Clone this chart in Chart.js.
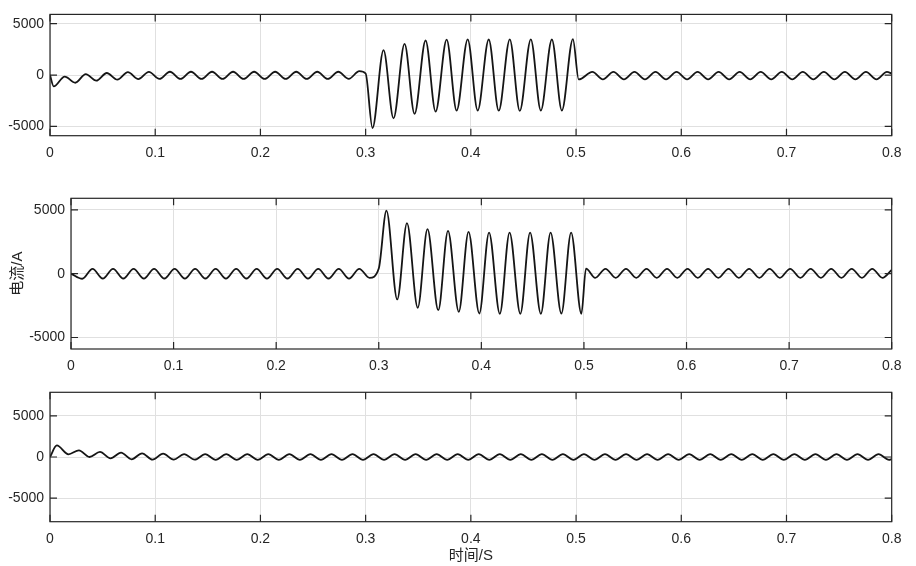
<!DOCTYPE html>
<html>
<head>
<meta charset="utf-8">
<script src="https://cdn.jsdelivr.net/npm/chart.js@4.4.1/dist/chart.umd.min.js"></script>
<style>
  body { margin: 0; background: #fff; width: 916px; height: 566px; overflow: hidden; position: relative; }
  canvas { position: absolute; left: 0; }
</style>
</head>
<body>
<canvas id="phaseA" width="916" height="170" style="top:0px"></canvas>
<canvas id="phaseB" width="916" height="205" style="top:170px"></canvas>
<canvas id="phaseC" width="916" height="191" style="top:375px"></canvas>
<script>
// tick labels
const xTickValues = [0, 0.1, 0.2, 0.3, 0.4, 0.5, 0.6, 0.7, 0.8];
const yTickValues = [-5000, 0, 5000];

// A相电流 (峰/谷读数)
const phaseATime = [
  0, 0.0035, 0.014, 0.024, 0.034, 0.044, 0.054, 0.064, 0.074, 0.084,
  0.094, 0.104, 0.114, 0.124, 0.134, 0.144, 0.154, 0.164, 0.174, 0.184,
  0.194, 0.204, 0.214, 0.224, 0.234, 0.244, 0.254, 0.264, 0.274, 0.284,
  0.294, 0.3, 0.3065, 0.317, 0.3265, 0.337, 0.3465, 0.357, 0.3665, 0.377,
  0.3865, 0.397, 0.4065, 0.417, 0.4265, 0.437, 0.4465, 0.457, 0.4665, 0.477,
  0.4865, 0.497, 0.5025, 0.5155, 0.5255, 0.5355, 0.5455, 0.5555, 0.5655, 0.5755,
  0.5855, 0.5955, 0.6055, 0.6155, 0.6255, 0.6355, 0.6455, 0.6555, 0.6655, 0.6755,
  0.6855, 0.6955, 0.7055, 0.7155, 0.7255, 0.7355, 0.7455, 0.7555, 0.7655, 0.7755,
  0.7855, 0.7955, 0.8
];
const phaseACurrent = [
  0, -1100, -150, -750, 90, -550, 200, -450, 290, -390,
  310, -380, 320, -380, 320, -380, 320, -380, 320, -380,
  320, -380, 320, -380, 320, -380, 320, -380, 320, -370,
  380, 150, -5150, 2420, -4210, 3030, -3780, 3360, -3550, 3450,
  -3460, 3480, -3450, 3460, -3470, 3480, -3480, 3480, -3450, 3460,
  -3450, 3500, -430, 300, -420, 300, -420, 300, -420, 300,
  -420, 300, -420, 300, -420, 300, -420, 300, -420, 300,
  -420, 300, -420, 300, -420, 300, -420, 300, -420, 300,
  -420, 300, 150
];

// B相电流
const phaseBTime = [
  0, 0.011, 0.021, 0.031, 0.041, 0.051, 0.061, 0.071, 0.081, 0.091,
  0.101, 0.111, 0.121, 0.131, 0.141, 0.151, 0.161, 0.171, 0.181, 0.191,
  0.201, 0.211, 0.221, 0.231, 0.241, 0.251, 0.261, 0.271, 0.281, 0.291,
  0.3, 0.3075, 0.318, 0.3275, 0.338, 0.3475, 0.358, 0.3675, 0.378, 0.3875,
  0.398, 0.4075, 0.418, 0.4275, 0.438, 0.4475, 0.458, 0.4675, 0.478, 0.4875,
  0.4975, 0.502, 0.511, 0.521, 0.531, 0.541, 0.551, 0.561, 0.571, 0.581,
  0.591, 0.601, 0.611, 0.621, 0.631, 0.641, 0.651, 0.661, 0.671, 0.681,
  0.691, 0.701, 0.711, 0.721, 0.731, 0.741, 0.751, 0.761, 0.771, 0.781,
  0.791, 0.8
];
const phaseBCurrent = [
  0, -400, 380, -380, 380, -380, 380, -380, 380, -380,
  380, -380, 380, -380, 380, -380, 380, -380, 380, -380,
  380, -380, 380, -380, 380, -380, 380, -380, 380, -330,
  400, 4930, -2020, 3950, -2670, 3480, -2860, 3350, -2990, 3270,
  -3120, 3220, -3140, 3220, -3140, 3220, -3140, 3220, -3120, 3220,
  -3140, 390, -330, 380, -330, 380, -330, 380, -330, 380,
  -330, 380, -330, 380, -330, 380, -330, 380, -330, 380,
  -330, 380, -330, 380, -330, 380, -330, 380, -330, 380,
  -330, 300
];

// C相电流
const phaseCTime = [
  0, 0.0065, 0.0175, 0.0275, 0.0375, 0.0475, 0.0575, 0.0675, 0.0775, 0.0875,
  0.0975, 0.1075, 0.1175, 0.1275, 0.1375, 0.1475, 0.1575, 0.1675, 0.1775, 0.1875,
  0.1975, 0.2075, 0.2175, 0.2275, 0.2375, 0.2475, 0.2575, 0.2675, 0.2775, 0.2875,
  0.2975, 0.3075, 0.3175, 0.3275, 0.3375, 0.3475, 0.3575, 0.3675, 0.3775, 0.3875,
  0.3975, 0.4075, 0.4175, 0.4275, 0.4375, 0.4475, 0.4575, 0.4675, 0.4775, 0.4875,
  0.4975, 0.5075, 0.5175, 0.5275, 0.5375, 0.5475, 0.5575, 0.5675, 0.5775, 0.5875,
  0.5975, 0.6075, 0.6175, 0.6275, 0.6375, 0.6475, 0.6575, 0.6675, 0.6775, 0.6875,
  0.6975, 0.7075, 0.7175, 0.7275, 0.7375, 0.7475, 0.7575, 0.7675, 0.7775, 0.7875,
  0.7975, 0.8
];
const phaseCCurrent = [
  0, 1400, 330, 810, 0, 610, -160, 530, -280, 450,
  -320, 410, -320, 360, -330, 340, -350, 340, -350, 340,
  -350, 340, -350, 340, -350, 340, -350, 340, -350, 340,
  -350, 340, -350, 340, -350, 340, -350, 340, -350, 340,
  -350, 340, -350, 340, -350, 340, -350, 340, -350, 340,
  -350, 340, -350, 340, -350, 340, -350, 340, -350, 340,
  -350, 340, -350, 340, -350, 340, -350, 340, -350, 340,
  -350, 340, -350, 340, -350, 340, -350, 340, -350, 340,
  -350, -250
];

const AXIS_COLOR = '#262626';
const FONT_FAMILY = '"Liberation Sans", Arial, "Noto Sans CJK SC", sans-serif';

// MATLAB 风格的外框和朝内刻度
const boxPlugin = {
  id: 'matlabBox',
  afterDatasetsDraw(chart) {
    const { ctx, chartArea: a, scales: { x, y } } = chart;
    const len = 7;
    ctx.save();
    ctx.strokeStyle = AXIS_COLOR;
    ctx.lineWidth = 1.2;
    ctx.beginPath();
    x.ticks.forEach(t => {
      const px = x.getPixelForValue(t.value);
      ctx.moveTo(px, a.bottom); ctx.lineTo(px, a.bottom - len);
      ctx.moveTo(px, a.top); ctx.lineTo(px, a.top + len);
    });
    y.ticks.forEach(t => {
      const py = y.getPixelForValue(t.value);
      ctx.moveTo(a.left, py); ctx.lineTo(a.left + len, py);
      ctx.moveTo(a.right, py); ctx.lineTo(a.right - len, py);
    });
    ctx.stroke();
    ctx.strokeRect(a.left, a.top, a.right - a.left, a.bottom - a.top);
    ctx.restore();
  }
};

function makeChart(id, times, currents, cfg) {
  const points = times.map((t, i) => ({ x: t, y: currents[i] }));
  return new Chart(document.getElementById(id), {
    type: 'line',
    data: {
      datasets: [{
        data: points,
        borderColor: '#151515',
        borderWidth: 1.8,
        pointRadius: 0,
        fill: false,
        cubicInterpolationMode: 'monotone'
      }]
    },
    options: {
      responsive: false,
      animation: false,
      devicePixelRatio: 1,
      layout: { padding: { top: cfg.top, right: 24.3, left: 0, bottom: 0 } },
      plugins: { legend: { display: false }, tooltip: { enabled: false } },
      scales: {
        x: {
          type: 'linear',
          min: 0,
          max: 0.8,
          afterBuildTicks: s => { s.ticks = xTickValues.map(v => ({ value: v })); },
          afterFit: s => { s.height = cfg.xHeight; },
          grid: { color: '#e0e0e0', drawTicks: false },
          border: { display: false },
          ticks: {
            autoSkip: false, maxRotation: 0, padding: 9,
            color: AXIS_COLOR, font: { family: FONT_FAMILY, size: 14 },
            callback: v => String(v)
          },
          title: cfg.xTitle ? {
            display: true, text: cfg.xTitle, color: AXIS_COLOR,
            font: { family: FONT_FAMILY, size: 15 }, padding: { top: 0, bottom: 1 }
          } : { display: false }
        },
        y: {
          min: -cfg.yLim,
          max: cfg.yLim,
          afterBuildTicks: s => { s.ticks = yTickValues.map(v => ({ value: v })); },
          afterFit: s => { s.width = cfg.yWidth; },
          grid: { color: '#e0e0e0', drawTicks: false },
          border: { display: false },
          ticks: {
            padding: 6,
            color: AXIS_COLOR, font: { family: FONT_FAMILY, size: 14 },
            callback: v => String(v)
          },
          title: cfg.yTitle ? {
            display: true, text: cfg.yTitle, color: AXIS_COLOR,
            font: { family: FONT_FAMILY, size: 15 }, padding: { top: 9, bottom: 0 }
          } : { display: false }
        }
      }
    },
    plugins: [boxPlugin]
  });
}

makeChart('phaseA', phaseATime, phaseACurrent, { top: 6, xHeight: 34.3, yWidth: 50, yLim: 5900 });
makeChart('phaseB', phaseBTime, phaseBCurrent, { top: 28.3, xHeight: 26, yWidth: 71, yLim: 5900, yTitle: '电流/A' });
makeChart('phaseC', phaseCTime, phaseCCurrent, { top: 17.3, xHeight: 44.3, yWidth: 50, yLim: 7850, xTitle: '时间/S' });
</script>
</body>
</html>
